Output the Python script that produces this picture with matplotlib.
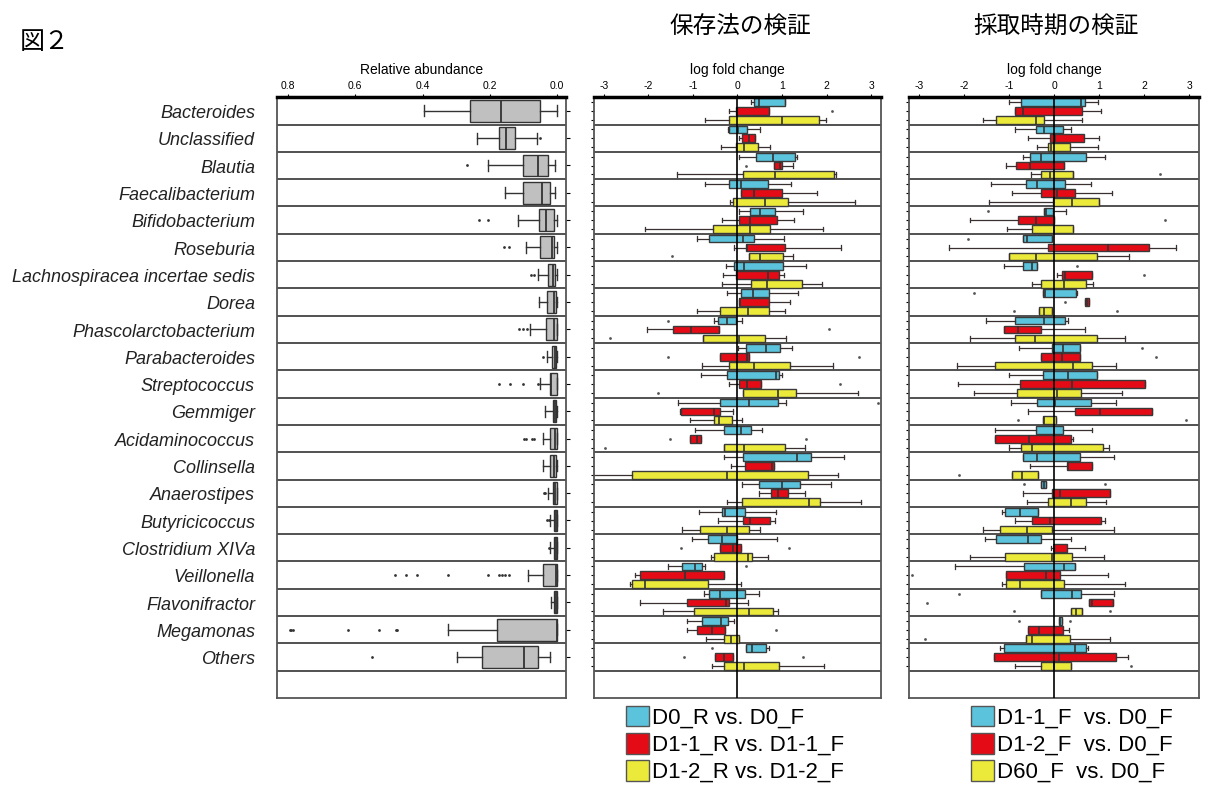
import matplotlib
matplotlib.use("Agg")
import matplotlib.pyplot as plt
from matplotlib.patches import Patch
from matplotlib.transforms import blended_transform_factory

plt.rcParams['font.family'] = ['Liberation Sans', 'DejaVu Sans']
plt.rcParams['axes.unicode_minus'] = False
CJK = ['Noto Sans CJK JP', 'DejaVu Sans']

genera = ["Bacteroides", "Unclassified", "Blautia", "Faecalibacterium",
          "Bifidobacterium", "Roseburia", "Lachnospiracea incertae sedis",
          "Dorea", "Phascolarctobacterium", "Parabacteroides", "Streptococcus",
          "Gemmiger", "Acidaminococcus", "Collinsella", "Anaerostipes",
          "Butyricicoccus", "Clostridium XIVa", "Veillonella", "Flavonifractor",
          "Megamonas", "Others"]

# every box: (whisker low, q1, median, q3, whisker high); outliers by row index
abund = [(0.0, 0.052, 0.166, 0.26, 0.395), (0.06, 0.126, 0.151, 0.172, 0.237),
         (0.007, 0.027, 0.058, 0.101, 0.206), (0.007, 0.02, 0.045, 0.102, 0.156),
         (0.0, 0.01, 0.032, 0.055, 0.115), (0.0, 0.01, 0.015, 0.051, 0.091),
         (0.0, 0.005, 0.012, 0.028, 0.058), (0.0, 0.004, 0.01, 0.029, 0.055),
         (0.0, 0.0, 0.008, 0.032, 0.08), (0.0, 0.002, 0.007, 0.015, 0.029),
         (0.0, 0.0, 0.017, 0.022, 0.05), (0.0, 0.003, 0.007, 0.013, 0.035),
         (0.0, 0.0, 0.005, 0.022, 0.042), (0.0, 0.003, 0.01, 0.022, 0.042),
         (0.0, 0.0, 0.007, 0.012, 0.027), (0.0, 0.0, 0.004, 0.01, 0.02),
         (0.0, 0.0, 0.003, 0.008, 0.02), (0.0, 0.0, 0.003, 0.042, 0.085),
         (0.0, 0.0, 0.002, 0.009, 0.017), (0.0, 0.0, 0.0, 0.179, 0.323),
         (0.022, 0.058, 0.098, 0.223, 0.296)]
abund_out = {1: [0.052], 2: [0.267], 4: [0.206, 0.231], 5: [0.142, 0.157],
             6: [0.067, 0.077], 8: [0.089, 0.102, 0.114], 9: [0.042],
             10: [0.058, 0.102, 0.141, 0.172], 12: [0.068, 0.075, 0.092, 0.097],
             14: [0.035, 0.04], 15: [0.025, 0.029], 16: [0.023],
             17: [0.144, 0.154, 0.164, 0.174, 0.204, 0.323, 0.417, 0.448, 0.481],
             19: [0.477, 0.48, 0.529, 0.623, 0.785, 0.79, 0.795], 20: [0.549]}

# 保存法の検証
d0r = [(0.3, 0.36, 0.48, 1.06, 1.06), (-0.22, -0.18, 0.02, 0.21, 0.5),
       (0.03, 0.41, 0.79, 1.29, 1.33), (-0.72, -0.19, 0.07, 0.69, 1.21),
       (0.03, 0.29, 0.51, 0.85, 1.47), (-0.9, -0.64, 0.13, 0.38, 1.04),
       (-0.25, -0.07, 0.15, 1.02, 1.54), (-0.24, 0.09, 0.34, 0.71, 1.37),
       (-0.52, -0.44, -0.24, -0.04, 0.1), (0.01, 0.2, 0.63, 0.96, 1.23),
       (-0.83, -0.24, 0.87, 0.93, 1.0), (-1.33, -0.4, 0.25, 0.91, 1.08),
       (-0.95, -0.3, 0.08, 0.31, 0.56), (-0.3, 0.13, 1.33, 1.66, 2.39),
       (0.1, 0.48, 0.99, 1.41, 2.11), (-0.87, -0.34, -0.28, 0.16, 0.86),
       (-1.02, -0.67, -0.34, -0.01, 0.88), (-1.57, -1.24, -0.96, -0.8, -0.73),
       (-0.75, -0.64, -0.39, 0.16, 0.49), (-1.13, -0.8, -0.37, -0.22, -0.07),
       (0.18, 0.18, 0.33, 0.63, 0.71)]
d0r_out = {8: [-1.57], 11: [3.15], 17: [0.18], 20: [-0.57]}

d11r = [(-0.2, -0.04, -0.01, 0.71, 0.71), (0.04, 0.1, 0.25, 0.39, 0.39),
        (0.81, 0.81, 0.95, 1.01, 1.24), (0.08, 0.08, 0.36, 0.99, 1.79),
        (-0.34, 0.03, 0.28, 0.88, 1.26), (-0.07, 0.18, 0.22, 1.06, 2.32),
        (-0.33, -0.04, 0.69, 0.93, 1.04), (0.03, 0.03, 0.05, 0.71, 1.19),
        (-2.03, -1.44, -1.04, -0.42, -0.42), (-0.4, -0.4, 0.22, 0.25, 0.25),
        (-0.18, 0.03, 0.22, 0.53, 0.53), (-1.29, -1.27, -0.52, -0.4, -0.09),
        (-1.07, -1.07, -0.92, -0.83, -0.83), (-0.15, 0.16, 0.78, 0.81, 0.83),
        (0.48, 0.76, 0.92, 1.14, 1.51), (-0.44, 0.13, 0.28, 0.73, 0.84),
        (-0.39, -0.39, -0.1, 0.08, 0.08), (-2.3, -2.18, -1.17, -0.3, -0.3),
        (-2.18, -1.13, -0.25, -0.2, 0.23), (-1.13, -0.9, -0.57, -0.27, -0.27),
        (-0.5, -0.5, -0.31, -0.1, -0.1)]
d11r_out = {0: [2.13], 2: [0.18], 8: [2.06], 9: [-1.57, 2.73], 10: [2.3],
            12: [-1.52, 1.54], 16: [-1.28, 1.15], 19: [0.87], 20: [-1.21, 1.47]}

d12r = [(-0.72, -0.18, 1.0, 1.84, 1.99), (-0.37, -0.04, 0.15, 0.46, 0.73),
        (-1.36, 0.13, 0.84, 2.17, 2.22), (-0.16, -0.09, 0.61, 1.13, 2.64),
        (-2.07, -0.54, 0.28, 0.73, 1.91), (0.26, 0.26, 0.51, 1.02, 1.24),
        (-0.35, 0.31, 0.67, 1.44, 1.89), (-0.92, -0.4, 0.23, 0.71, 1.06),
        (-0.77, -0.77, 0.03, 0.61, 1.08), (-0.8, -0.19, 0.36, 1.19, 2.14),
        (0.13, 0.13, 0.91, 1.32, 2.71), (-1.07, -0.53, -0.41, -0.12, 0.11),
        (-0.3, -0.3, 0.15, 1.06, 1.51), (-3.3, -2.38, -0.24, 1.59, 2.26),
        (-0.24, 0.11, 1.61, 1.86, 2.77), (-1.25, -0.84, -0.24, 0.25, 0.51),
        (-0.59, -0.52, 0.23, 0.33, 0.69), (-2.42, -2.38, -2.08, -0.67, 0.09),
        (-1.68, -0.97, 0.25, 0.79, 0.91), (-0.7, -0.3, -0.14, 0.03, 0.03),
        (-0.57, -0.3, 0.15, 0.93, 1.94)]
d12r_out = {5: [-1.47], 8: [-2.87], 10: [-1.79], 12: [-2.98]}

# 採取時期の検証
d11f = [(-1.0, -0.74, 0.6, 0.68, 0.98), (-0.87, -0.4, -0.23, 0.2, 0.37),
        (-0.7, -0.54, -0.28, 0.71, 1.14), (-1.41, -0.63, -0.38, 0.25, 0.81),
        (-0.23, -0.23, -0.18, -0.03, 0.26), (-0.7, -0.7, -0.6, -0.05, -0.05),
        (-1.11, -0.7, -0.49, -0.37, -0.37), (-0.25, -0.25, -0.2, 0.49, 0.5),
        (-1.52, -0.86, -0.22, 0.25, 0.31), (-0.78, -0.04, 0.2, 0.58, 0.58),
        (-0.99, -0.25, 0.31, 0.96, 0.96), (-0.96, -0.38, 0.03, 0.81, 1.37),
        (-1.32, -0.4, 0.0, 0.2, 0.83), (-0.68, -0.68, -0.38, 0.58, 1.34),
        (-0.28, -0.28, -0.23, -0.18, -0.18), (-1.16, -1.09, -0.75, -0.36, -0.36),
        (-1.54, -1.28, -0.58, -0.28, 0.38), (-2.2, -0.66, 0.23, 0.46, 0.46),
        (-0.28, -0.28, 0.4, 0.6, 1.34), (0.1, 0.1, 0.13, 0.17, 0.17),
        (-1.2, -1.11, 0.46, 0.71, 0.75)]
d11f_out = {4: [-1.46], 5: [-1.91], 6: [0.51], 7: [-1.78], 9: [1.96],
            14: [-0.66, 1.13], 18: [-2.1], 19: [-0.78, 0.36]}

d12f = [(-0.87, -0.87, -0.68, 0.63, 1.04), (-0.57, -0.1, 0.02, 0.66, 1.0),
        (-1.07, -0.84, -0.54, 0.22, 0.22), (-0.93, -0.28, 0.07, 0.46, 1.29),
        (-1.87, -0.81, -0.4, -0.01, -0.01), (-2.34, -0.13, 1.19, 2.1, 2.7),
        (0.07, 0.18, 0.25, 0.85, 0.85), (0.68, 0.68, 0.73, 0.78, 0.78),
        (-1.1, -1.1, -0.81, -0.28, 0.69), (-0.3, -0.3, 0.18, 0.58, 0.58),
        (-2.13, -0.76, 0.4, 2.01, 2.01), (-0.58, 0.46, 1.01, 2.17, 2.17),
        (-1.31, -1.31, -0.56, 0.37, 0.43), (-0.53, 0.29, 0.31, 0.85, 0.85),
        (-0.68, -0.04, 0.13, 1.23, 1.23), (-0.86, -0.5, -0.09, 1.04, 1.13),
        (-0.07, 0.0, 0.0, 0.28, 0.69), (-1.06, -1.06, -0.18, 0.13, 1.19),
        (0.78, 0.78, 0.85, 1.31, 1.31), (-0.58, -0.58, -0.34, 0.2, 0.33),
        (-1.34, -1.34, 0.12, 1.37, 1.63)]
d12f_out = {4: [2.46], 6: [1.99], 7: [0.25], 9: [2.27], 17: [-3.15], 18: [-2.81]}

d60f = [(-1.57, -1.29, -0.4, -0.23, 0.63), (-0.37, -0.14, -0.07, 0.35, 0.98),
        (-0.51, -0.28, -0.1, 0.41, 0.41), (-1.45, -0.02, 0.4, 1.0, 1.0),
        (-1.04, -0.48, 0.0, 0.43, 0.43), (-1.01, -1.01, -0.4, 0.96, 1.66),
        (-0.48, -0.28, 0.22, 0.71, 0.86), (-0.33, -0.33, -0.23, -0.05, -0.05),
        (-1.87, -0.86, -0.43, 0.96, 1.57), (-2.16, -1.31, 0.43, 0.83, 1.37),
        (-1.77, -0.83, 0.07, 0.6, 1.51), (-0.25, -0.25, -0.22, 0.04, 0.04),
        (-0.99, -0.73, -0.48, 1.08, 1.21), (-0.94, -0.94, -0.71, -0.36, -0.36),
        (-0.6, -0.13, 0.38, 0.71, 1.16), (-1.57, -1.19, -0.6, -0.05, 1.34),
        (-1.87, -1.09, -0.04, 0.4, 1.1), (-1.16, -1.06, -0.75, 0.23, 1.57),
        (0.38, 0.38, 0.49, 0.63, 0.63), (-0.63, -0.63, -0.49, 0.35, 1.23),
        (-0.87, -0.28, 0.0, 0.38, 0.38)]
d60f_out = {2: [2.36], 7: [-0.89, 1.4], 11: [-0.8, 2.93], 13: [-2.11],
            18: [-0.89, 1.23], 19: [-2.86], 20: [1.71]}

labels_pres = ["D0_R vs. D0_F", "D1-1_R vs. D1-1_F", "D1-2_R vs. D1-2_F"]
labels_time = ["D1-1_F  vs. D0_F", "D1-2_F  vs. D0_F", "D60_F  vs. D0_F"]
colors = ['#5bc4dc', '#e40b16', '#ebe93a']
nrows = len(genera) + 1


def make_stats(rows, out):
    st = []
    for i, (lo, q1, med, q3, hi) in enumerate(rows):
        st.append(dict(whislo=lo, q1=q1, med=med, q3=q3, whishi=hi,
                       fliers=out.get(i, [])))
    return st


def frame(ax):
    ax.set_ylim(nrows, 0)
    for s in ax.spines.values():
        s.set_color('#555555')
        s.set_linewidth(1.3)
    ax.spines['top'].set_color('black')
    ax.spines['top'].set_linewidth(2.5)
    for r in range(1, nrows):
        ax.axhline(r, color='#222222', lw=1.1, zorder=1)
    ax.xaxis.tick_top()
    ax.xaxis.set_label_position('top')
    ax.tick_params(axis='x', labelsize=7.5, length=2.5, pad=2)


def lfc_panel(ax, series, outs):
    frame(ax)
    ticks = []
    for k, (rows, out, col) in enumerate(zip(series, outs, colors)):
        pos = [i + 0.18 + 0.325 * k for i in range(len(rows))]
        ticks += pos
        ax.bxp(make_stats(rows, out), positions=pos, widths=0.28,
               orientation='horizontal', patch_artist=True, manage_ticks=False,
               capwidths=0.16,
               boxprops=dict(facecolor=col, edgecolor='#3a3a3a', lw=1.0),
               medianprops=dict(color='#333333', lw=1.2),
               whiskerprops=dict(color='#3a3030', lw=0.9),
               capprops=dict(color='#3a3030', lw=0.9),
               flierprops=dict(marker='o', markersize=2, markerfacecolor='#555555',
                               markeredgecolor='none'))
    ax.axvline(0, color='black', lw=1.2, zorder=3)
    ax.set_xlim(-3.22, 3.22)
    ax.set_xticks([-3, -2, -1, 0, 1, 2, 3])
    ax.set_yticks(ticks)
    ax.set_yticklabels([])
    ax.tick_params(axis='y', length=2.5, width=0.8)
    ax.set_xlabel('log fold change', fontsize=10, labelpad=5)


fig = plt.figure(figsize=(12.2, 8), dpi=100)
ax0 = fig.add_axes([0.227, 0.1275, 0.237, 0.751])
ax1 = fig.add_axes([0.487, 0.1275, 0.235, 0.751])
ax2 = fig.add_axes([0.745, 0.1275, 0.238, 0.751])

# relative abundance
frame(ax0)
ax0.bxp(make_stats(abund, abund_out), positions=[i + 0.5 for i in range(len(abund))],
        widths=0.8, orientation='horizontal', patch_artist=True, manage_ticks=False,
        capwidths=0.4,
        boxprops=dict(facecolor='#c0c0c0', edgecolor='#333333', lw=1.0),
        medianprops=dict(color='#333333', lw=1.3),
        whiskerprops=dict(color='#333333', lw=1.0),
        capprops=dict(color='#333333', lw=1.0),
        flierprops=dict(marker='o', markersize=2, markerfacecolor='#333333',
                        markeredgecolor='none'))
ax0.set_xlim(0.833, -0.027)
ax0.set_xticks([0.8, 0.6, 0.4, 0.2, 0.0])
ax0.set_xticklabels(['0.8', '0.6', '0.4', '0.2', '0.0'])
ax0.yaxis.tick_right()
ax0.set_yticks([i + 0.5 for i in range(len(genera))])
ax0.set_yticklabels([])
ax0.tick_params(axis='y', length=3, width=0.8)
ax0.set_xlabel('Relative abundance', fontsize=10, labelpad=5)

tr = blended_transform_factory(ax0.transAxes, ax0.transData)
for i, g in enumerate(genera):
    ax0.text(-0.076, i + 0.6, g, transform=tr, ha='right', va='center',
             fontsize=13, style='italic', color='#222222')

lfc_panel(ax1, [d0r, d11r, d12r], [d0r_out, d11r_out, d12r_out])
lfc_panel(ax2, [d11f, d12f, d60f], [d11f_out, d12f_out, d60f_out])

fig.text(0.016, 0.947, '図２', fontsize=18, family=CJK, va='center', ha='left')
fig.text(0.607, 0.966, '保存法の検証', fontsize=17, family=CJK, va='center', ha='center')
fig.text(0.866, 0.966, '採取時期の検証', fontsize=17, family=CJK, va='center', ha='center')

for labs, x0 in [(labels_pres, 0.513), (labels_time, 0.796)]:
    handles = [Patch(facecolor=c, edgecolor='#555555', lw=1.0) for c in colors]
    fig.legend(handles, labs, loc='upper left', bbox_to_anchor=(x0, 0.118),
               frameon=False, fontsize=16, handlelength=1.05, handleheight=1.05,
               handletextpad=0.12, labelspacing=0.2, borderpad=0, borderaxespad=0)

fig.savefig('out.png', dpi=100)
